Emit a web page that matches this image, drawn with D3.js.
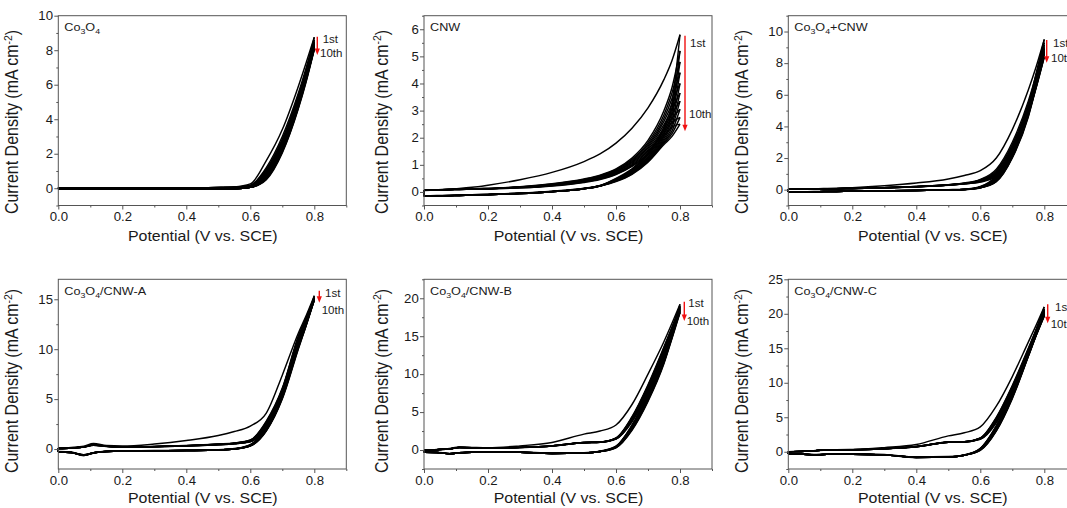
<!DOCTYPE html>
<html><head><meta charset="utf-8">
<script src="https://cdn.jsdelivr.net/npm/d3@7"></script>
<style>
body{margin:0;background:#fff;}
svg{display:block;}
text{font-family:"Liberation Sans",Arial,sans-serif;}
</style>
</head><body>
<svg id="chart" width="1067" height="508"></svg>
<script>
// ---------------- DATA ----------------
// potential grid (V vs. SCE) shared by every branch
const potentials = [0, 0.04, 0.08, 0.11, 0.15, 0.2, 0.3, 0.4, 0.5, 0.55, 0.6, 0.65, 0.7, 0.75, 0.775, 0.8];
const xMajorTicks = [0, 0.2, 0.4, 0.6, 0.8];
const xMinorTicks = [0.1, 0.3, 0.5, 0.7, 0.9];

// Co3O4 : anodic (forward) and cathodic (reverse) branches of cycles 1..10 (mA cm-2)
const co3o4Fwd = [
 [0.02,0.02,0.02,0.02,0.02,0.02,0.02,0.03,0.05,0.08,0.25,1.6,3.4,5.9,7.3,8.75],
 [0.02,0.02,0.02,0.02,0.02,0.02,0.02,0.02,0.04,0.06,0.18,1.2,3.0,5.5,7.0,8.6],
 [0.02,0.02,0.02,0.02,0.02,0.02,0.02,0.02,0.04,0.05,0.16,1.1,2.85,5.35,6.85,8.5],
 [0.02,0.02,0.02,0.02,0.02,0.02,0.02,0.02,0.04,0.05,0.15,1.02,2.75,5.25,6.75,8.42],
 [0.02,0.02,0.02,0.02,0.02,0.02,0.02,0.02,0.03,0.05,0.14,0.96,2.66,5.15,6.67,8.35],
 [0.02,0.02,0.02,0.02,0.02,0.02,0.02,0.02,0.03,0.04,0.13,0.9,2.58,5.07,6.6,8.28],
 [0.02,0.02,0.02,0.02,0.02,0.02,0.02,0.02,0.03,0.04,0.12,0.85,2.5,5.0,6.53,8.22],
 [0.02,0.02,0.02,0.02,0.02,0.02,0.02,0.02,0.03,0.04,0.12,0.8,2.43,4.93,6.46,8.16],
 [0.02,0.02,0.02,0.02,0.02,0.02,0.02,0.02,0.03,0.04,0.11,0.76,2.37,4.86,6.4,8.1],
 [0.02,0.02,0.02,0.02,0.02,0.02,0.02,0.02,0.03,0.04,0.11,0.72,2.3,4.8,6.34,8.05]
];
const co3o4Rev = [
 [-0.04,-0.04,-0.04,-0.04,-0.04,-0.04,-0.04,-0.04,-0.04,-0.03,0.05,1.0,2.75,5.3,6.9,8.75],
 [-0.04,-0.04,-0.04,-0.04,-0.04,-0.04,-0.04,-0.04,-0.04,-0.03,0.05,0.85,2.6,5.15,6.75,8.6],
 [-0.04,-0.04,-0.04,-0.04,-0.04,-0.04,-0.04,-0.04,-0.04,-0.03,0.05,0.78,2.5,5.05,6.65,8.5],
 [-0.04,-0.04,-0.04,-0.04,-0.04,-0.04,-0.04,-0.04,-0.04,-0.03,0.05,0.72,2.42,4.97,6.57,8.42],
 [-0.04,-0.04,-0.04,-0.04,-0.04,-0.04,-0.04,-0.04,-0.04,-0.03,0.05,0.67,2.35,4.9,6.5,8.35],
 [-0.04,-0.04,-0.04,-0.04,-0.04,-0.04,-0.04,-0.04,-0.04,-0.03,0.05,0.63,2.28,4.83,6.43,8.28],
 [-0.04,-0.04,-0.04,-0.04,-0.04,-0.04,-0.04,-0.04,-0.04,-0.03,0.05,0.59,2.22,4.77,6.37,8.22],
 [-0.04,-0.04,-0.04,-0.04,-0.04,-0.04,-0.04,-0.04,-0.04,-0.03,0.05,0.56,2.16,4.71,6.31,8.16],
 [-0.04,-0.04,-0.04,-0.04,-0.04,-0.04,-0.04,-0.04,-0.04,-0.03,0.05,0.53,2.1,4.65,6.25,8.1],
 [-0.04,-0.04,-0.04,-0.04,-0.04,-0.04,-0.04,-0.04,-0.04,-0.03,0.05,0.5,2.05,4.6,6.2,8.05]
];

// CNW
const cnwFwd = [
 [0.05,0.08,0.11,0.13,0.17,0.25,0.45,0.72,1.12,1.4,1.8,2.35,3.1,4.15,4.85,5.8],
 [0.07,0.08,0.09,0.1,0.11,0.13,0.19,0.3,0.48,0.62,0.85,1.25,1.9,3.0,3.85,5.2],
 [0.07,0.08,0.09,0.1,0.11,0.13,0.18,0.29,0.46,0.6,0.82,1.2,1.82,2.85,3.65,4.8],
 [0.07,0.08,0.09,0.1,0.11,0.13,0.18,0.28,0.44,0.58,0.79,1.16,1.75,2.72,3.45,4.4],
 [0.07,0.08,0.09,0.1,0.11,0.12,0.17,0.27,0.42,0.56,0.76,1.12,1.68,2.6,3.25,4.0],
 [0.07,0.08,0.09,0.1,0.11,0.12,0.17,0.26,0.41,0.54,0.74,1.08,1.62,2.48,3.05,3.65],
 [0.06,0.07,0.08,0.09,0.1,0.12,0.16,0.25,0.39,0.52,0.71,1.04,1.56,2.37,2.88,3.35],
 [0.06,0.07,0.08,0.09,0.1,0.12,0.16,0.24,0.38,0.5,0.69,1.0,1.5,2.27,2.72,3.05],
 [0.06,0.07,0.08,0.09,0.1,0.11,0.15,0.23,0.37,0.48,0.66,0.97,1.44,2.17,2.56,2.75],
 [0.06,0.07,0.08,0.09,0.1,0.11,0.15,0.22,0.35,0.46,0.64,0.94,1.38,2.07,2.4,2.5]
];
const cnwRev = [
 [-0.14,-0.13,-0.12,-0.11,-0.1,-0.08,-0.04,0.03,0.14,0.24,0.5,0.85,1.45,2.4,3.3,5.8],
 [-0.15,-0.14,-0.13,-0.12,-0.11,-0.09,-0.05,0.02,0.13,0.23,0.48,0.82,1.4,2.3,3.1,5.2],
 [-0.15,-0.14,-0.13,-0.12,-0.11,-0.09,-0.05,0.02,0.13,0.23,0.46,0.79,1.35,2.2,2.95,4.8],
 [-0.16,-0.15,-0.14,-0.13,-0.12,-0.1,-0.06,0.01,0.12,0.22,0.45,0.76,1.3,2.12,2.8,4.4],
 [-0.16,-0.15,-0.14,-0.13,-0.12,-0.1,-0.06,0.01,0.12,0.22,0.44,0.74,1.26,2.04,2.65,4.0],
 [-0.16,-0.15,-0.14,-0.13,-0.12,-0.1,-0.06,0.01,0.12,0.22,0.43,0.72,1.22,1.97,2.5,3.65],
 [-0.16,-0.15,-0.14,-0.13,-0.12,-0.1,-0.06,0.01,0.12,0.22,0.42,0.7,1.19,1.9,2.38,3.35],
 [-0.16,-0.15,-0.14,-0.13,-0.12,-0.1,-0.06,0.01,0.12,0.22,0.41,0.68,1.16,1.85,2.25,3.05],
 [-0.16,-0.15,-0.14,-0.13,-0.12,-0.1,-0.06,0.01,0.12,0.22,0.4,0.67,1.13,1.8,2.15,2.75],
 [-0.16,-0.15,-0.14,-0.13,-0.12,-0.1,-0.06,0.01,0.12,0.22,0.38,0.65,1.1,1.75,2.05,2.5]
];

// Co3O4+CNW
const mixFwd = [
 [0.02,0.04,0.06,0.07,0.09,0.13,0.25,0.42,0.68,0.9,1.2,2.0,3.8,6.3,7.8,9.5],
 [0.02,0.03,0.04,0.05,0.06,0.08,0.13,0.2,0.32,0.42,0.65,1.3,3.0,5.6,7.3,9.3],
 [0.02,0.03,0.04,0.05,0.06,0.08,0.13,0.2,0.31,0.4,0.62,1.22,2.85,5.45,7.15,9.15],
 [0.02,0.03,0.04,0.05,0.06,0.08,0.13,0.2,0.31,0.4,0.6,1.15,2.72,5.32,7.02,9.0],
 [0.02,0.03,0.04,0.05,0.06,0.08,0.12,0.19,0.3,0.39,0.58,1.08,2.6,5.2,6.9,8.9],
 [0.02,0.03,0.04,0.05,0.06,0.08,0.12,0.19,0.3,0.39,0.56,1.02,2.5,5.1,6.8,8.8],
 [0.02,0.03,0.04,0.05,0.06,0.08,0.12,0.19,0.3,0.38,0.54,0.97,2.42,5.0,6.7,8.7],
 [0.02,0.03,0.04,0.05,0.06,0.08,0.12,0.18,0.29,0.38,0.52,0.92,2.34,4.92,6.62,8.6],
 [0.02,0.03,0.04,0.05,0.06,0.08,0.12,0.18,0.29,0.37,0.5,0.88,2.27,4.85,6.55,8.5],
 [0.02,0.03,0.04,0.05,0.06,0.08,0.12,0.18,0.28,0.37,0.48,0.84,2.2,4.78,6.48,8.4]
];
const mixRev = [
 [-0.14,-0.13,-0.12,-0.11,-0.1,-0.09,-0.07,-0.04,0.0,0.03,0.2,0.9,2.6,5.3,7.4,9.5],
 [-0.15,-0.14,-0.13,-0.12,-0.11,-0.1,-0.08,-0.05,-0.02,0.01,0.18,0.82,2.5,5.2,7.25,9.3],
 [-0.15,-0.14,-0.13,-0.12,-0.11,-0.1,-0.08,-0.05,-0.02,0.01,0.17,0.76,2.42,5.1,7.1,9.15],
 [-0.15,-0.14,-0.13,-0.12,-0.11,-0.1,-0.08,-0.05,-0.02,0.01,0.16,0.7,2.34,5.0,6.98,9.0],
 [-0.15,-0.14,-0.13,-0.12,-0.11,-0.1,-0.08,-0.05,-0.02,0.01,0.15,0.66,2.27,4.92,6.88,8.9],
 [-0.15,-0.14,-0.13,-0.12,-0.11,-0.1,-0.08,-0.05,-0.02,0.01,0.14,0.62,2.2,4.85,6.8,8.8],
 [-0.15,-0.14,-0.13,-0.12,-0.11,-0.1,-0.08,-0.05,-0.02,0.01,0.13,0.58,2.14,4.78,6.72,8.7],
 [-0.15,-0.14,-0.13,-0.12,-0.11,-0.1,-0.08,-0.05,-0.02,0.01,0.12,0.55,2.09,4.72,6.64,8.6],
 [-0.15,-0.14,-0.13,-0.12,-0.11,-0.1,-0.08,-0.05,-0.02,0.01,0.12,0.52,2.04,4.66,6.57,8.5],
 [-0.15,-0.14,-0.13,-0.12,-0.11,-0.1,-0.08,-0.05,-0.02,0.01,0.11,0.5,2.0,4.6,6.5,8.4]
];

// Co3O4/CNW-A
const aFwd = [
 [0.08,0.15,0.28,0.55,0.35,0.3,0.5,0.85,1.35,1.75,2.3,3.6,7.4,11.6,13.4,15.35],
 [0.05,0.1,0.22,0.45,0.3,0.2,0.25,0.35,0.5,0.6,0.9,2.8,6.1,11.3,13.2,15.2],
 [0.05,0.1,0.22,0.44,0.3,0.2,0.25,0.34,0.49,0.59,0.88,2.72,6.02,11.2,13.13,15.16],
 [0.05,0.1,0.21,0.43,0.29,0.2,0.25,0.34,0.48,0.58,0.85,2.64,5.95,11.1,13.06,15.12],
 [0.05,0.1,0.21,0.42,0.29,0.2,0.24,0.33,0.47,0.57,0.82,2.56,5.87,11.0,13.0,15.08],
 [0.05,0.1,0.21,0.41,0.28,0.2,0.24,0.33,0.46,0.56,0.8,2.49,5.8,10.92,12.94,15.04],
 [0.05,0.1,0.2,0.4,0.28,0.2,0.24,0.32,0.45,0.55,0.78,2.42,5.73,10.84,12.88,15.0],
 [0.05,0.1,0.2,0.39,0.27,0.19,0.23,0.32,0.44,0.54,0.76,2.35,5.66,10.76,12.83,14.97],
 [0.05,0.1,0.2,0.38,0.27,0.19,0.23,0.31,0.43,0.53,0.74,2.28,5.58,10.68,12.77,14.94],
 [0.05,0.1,0.2,0.37,0.26,0.19,0.23,0.31,0.42,0.52,0.72,2.2,5.5,10.6,12.7,14.9]
];
const aRev = [
 [-0.25,-0.3,-0.6,-0.38,-0.22,-0.18,-0.15,-0.12,-0.07,0.05,0.45,2.2,5.8,10.8,12.9,15.35],
 [-0.3,-0.35,-0.65,-0.4,-0.25,-0.2,-0.18,-0.15,-0.1,0.0,0.42,2.15,5.7,10.7,12.83,15.2],
 [-0.3,-0.35,-0.64,-0.4,-0.25,-0.2,-0.18,-0.15,-0.1,0.0,0.4,2.1,5.6,10.6,12.76,15.16],
 [-0.3,-0.35,-0.63,-0.4,-0.25,-0.2,-0.18,-0.15,-0.1,0.0,0.38,2.05,5.5,10.5,12.7,15.12],
 [-0.3,-0.35,-0.62,-0.39,-0.25,-0.2,-0.18,-0.15,-0.1,0.0,0.36,2.0,5.4,10.4,12.64,15.08],
 [-0.3,-0.35,-0.61,-0.39,-0.25,-0.2,-0.18,-0.15,-0.1,0.0,0.35,1.96,5.32,10.32,12.58,15.04],
 [-0.3,-0.35,-0.6,-0.38,-0.25,-0.2,-0.18,-0.15,-0.1,0.0,0.34,1.92,5.24,10.24,12.52,15.0],
 [-0.3,-0.35,-0.59,-0.38,-0.25,-0.2,-0.18,-0.15,-0.1,0.0,0.33,1.88,5.16,10.16,12.47,14.97],
 [-0.3,-0.35,-0.58,-0.37,-0.25,-0.2,-0.18,-0.15,-0.1,0.0,0.32,1.84,5.08,10.08,12.43,14.94],
 [-0.3,-0.35,-0.57,-0.37,-0.25,-0.2,-0.18,-0.15,-0.1,0.0,0.3,1.8,5.0,10.0,12.4,14.9]
];

// Co3O4/CNW-B
const bFwd = [
 [0.0,0.08,0.2,0.4,0.35,0.3,0.55,1.0,2.1,2.5,3.3,6.0,10.0,14.3,16.7,19.2],
 [0.0,0.05,0.15,0.35,0.3,0.28,0.35,0.55,1.0,1.05,1.6,4.4,8.6,13.6,16.2,19.0],
 [0.0,0.05,0.15,0.35,0.3,0.28,0.35,0.55,1.0,1.05,1.58,4.3,8.47,13.47,16.1,18.88],
 [0.0,0.05,0.15,0.34,0.3,0.28,0.35,0.55,1.0,1.05,1.56,4.21,8.35,13.35,16.0,18.77],
 [0.0,0.05,0.15,0.34,0.3,0.28,0.35,0.55,0.98,1.04,1.54,4.12,8.22,13.22,15.9,18.66],
 [0.0,0.05,0.15,0.34,0.3,0.28,0.35,0.54,0.98,1.04,1.52,4.04,8.1,13.1,15.8,18.55],
 [0.0,0.05,0.14,0.33,0.29,0.27,0.34,0.54,0.97,1.03,1.5,3.96,7.97,12.97,15.7,18.44],
 [0.0,0.05,0.14,0.33,0.29,0.27,0.34,0.54,0.97,1.03,1.48,3.88,7.85,12.85,15.6,18.33],
 [0.0,0.05,0.14,0.33,0.29,0.27,0.34,0.53,0.96,1.02,1.46,3.8,7.72,12.72,15.5,18.22],
 [0.0,0.05,0.14,0.32,0.29,0.27,0.34,0.53,0.96,1.02,1.44,3.72,7.6,12.6,15.4,18.1]
];
const bRev = [
 [-0.25,-0.28,-0.45,-0.35,-0.25,-0.22,-0.25,-0.4,-0.35,-0.15,0.5,3.3,7.4,12.4,15.6,19.2],
 [-0.3,-0.32,-0.5,-0.38,-0.28,-0.25,-0.3,-0.45,-0.4,-0.2,0.48,3.22,7.29,12.29,15.5,19.0],
 [-0.3,-0.32,-0.5,-0.38,-0.28,-0.25,-0.3,-0.45,-0.4,-0.2,0.46,3.14,7.18,12.18,15.4,18.88],
 [-0.3,-0.32,-0.5,-0.38,-0.28,-0.25,-0.3,-0.45,-0.4,-0.2,0.44,3.06,7.07,12.07,15.3,18.77],
 [-0.3,-0.32,-0.5,-0.38,-0.28,-0.25,-0.3,-0.45,-0.4,-0.2,0.42,2.98,6.96,11.96,15.2,18.66],
 [-0.3,-0.32,-0.49,-0.37,-0.28,-0.25,-0.3,-0.45,-0.4,-0.2,0.4,2.9,6.85,11.85,15.1,18.55],
 [-0.3,-0.32,-0.49,-0.37,-0.28,-0.25,-0.3,-0.45,-0.4,-0.2,0.38,2.83,6.74,11.74,15.0,18.44],
 [-0.3,-0.32,-0.48,-0.37,-0.28,-0.25,-0.3,-0.45,-0.4,-0.2,0.35,2.76,6.63,11.63,14.9,18.33],
 [-0.3,-0.32,-0.48,-0.36,-0.28,-0.25,-0.3,-0.45,-0.4,-0.2,0.33,2.68,6.52,11.52,14.8,18.22],
 [-0.3,-0.32,-0.48,-0.36,-0.28,-0.25,-0.3,-0.45,-0.4,-0.2,0.3,2.6,6.4,11.4,14.7,18.1]
];

// Co3O4/CNW-C
const cFwd = [
 [0.0,0.08,0.15,0.3,0.3,0.32,0.6,1.05,2.3,2.75,3.6,6.6,10.9,15.9,18.4,21.0],
 [0.0,0.05,0.12,0.25,0.25,0.28,0.45,0.75,1.4,1.45,2.0,5.0,9.6,15.0,17.8,20.7],
 [0.0,0.05,0.12,0.25,0.25,0.28,0.45,0.75,1.4,1.45,1.98,4.9,9.48,14.88,17.7,20.58],
 [0.0,0.05,0.12,0.25,0.25,0.28,0.45,0.75,1.39,1.44,1.96,4.8,9.36,14.76,17.6,20.46],
 [0.0,0.05,0.12,0.25,0.25,0.28,0.45,0.74,1.39,1.44,1.94,4.7,9.24,14.64,17.5,20.34],
 [0.0,0.05,0.12,0.24,0.25,0.28,0.44,0.74,1.38,1.43,1.92,4.6,9.12,14.52,17.4,20.22],
 [0.0,0.05,0.12,0.24,0.24,0.27,0.44,0.74,1.38,1.43,1.9,4.5,9.0,14.4,17.3,20.1],
 [0.0,0.05,0.12,0.24,0.24,0.27,0.44,0.73,1.37,1.42,1.87,4.4,8.87,14.27,17.2,19.96],
 [0.0,0.05,0.12,0.24,0.24,0.27,0.44,0.73,1.37,1.42,1.84,4.3,8.74,14.14,17.05,19.83],
 [0.0,0.05,0.12,0.23,0.24,0.27,0.43,0.73,1.36,1.41,1.8,4.2,8.6,14.0,16.9,19.7]
];
const cRev = [
 [-0.25,-0.28,-0.4,-0.35,-0.3,-0.3,-0.4,-0.75,-0.7,-0.45,0.5,3.8,8.6,14.6,17.7,21.0],
 [-0.3,-0.32,-0.45,-0.4,-0.35,-0.35,-0.45,-0.8,-0.75,-0.5,0.47,3.7,8.5,14.5,17.6,20.7],
 [-0.3,-0.32,-0.45,-0.4,-0.35,-0.35,-0.45,-0.8,-0.75,-0.5,0.44,3.6,8.4,14.4,17.5,20.58],
 [-0.3,-0.32,-0.45,-0.4,-0.35,-0.35,-0.45,-0.81,-0.76,-0.5,0.4,3.5,8.3,14.3,17.4,20.46],
 [-0.3,-0.32,-0.45,-0.4,-0.35,-0.35,-0.45,-0.81,-0.76,-0.5,0.37,3.4,8.2,14.2,17.3,20.34],
 [-0.3,-0.32,-0.45,-0.4,-0.35,-0.35,-0.45,-0.82,-0.77,-0.5,0.34,3.3,8.1,14.1,17.2,20.22],
 [-0.3,-0.32,-0.45,-0.4,-0.35,-0.35,-0.45,-0.82,-0.77,-0.5,0.3,3.2,8.0,14.0,17.1,20.1],
 [-0.3,-0.32,-0.45,-0.4,-0.35,-0.35,-0.45,-0.83,-0.78,-0.5,0.27,3.1,7.9,13.9,17.0,19.96],
 [-0.3,-0.32,-0.45,-0.4,-0.35,-0.35,-0.45,-0.83,-0.78,-0.5,0.24,3.05,7.8,13.85,16.95,19.83],
 [-0.3,-0.32,-0.45,-0.4,-0.35,-0.35,-0.45,-0.84,-0.78,-0.5,0.2,3.0,7.7,13.8,16.9,19.7]
];

// axis ranges and tick labels for each panel
const yDomains = [[-1,10],[-0.5,6.5],[-1,11],[-2,17],[-2.5,22.5],[-2.5,25]];
const yMajorTicks = [[0,2,4,6,8,10],[0,1,2,3,4,5,6],[0,2,4,6,8,10],[0,5,10,15],[0,5,10,15,20],[0,5,10,15,20,25]];
const yMinorTicks = [[-1,1,3,5,7,9],[-0.5,0.5,1.5,2.5,3.5,4.5,5.5,6.5],[-1,1,3,5,7,9,11],[2.5,7.5,12.5],[-2.5,2.5,7.5,12.5,17.5,22.5],[-2.5,2.5,7.5,12.5,17.5,22.5]];
// panel names as [text, isSubscript] segments
const panelTitles = [
 [["Co",0],["3",1],["O",0],["4",1]],
 [["CNW",0]],
 [["Co",0],["3",1],["O",0],["4",1],["+CNW",0]],
 [["Co",0],["3",1],["O",0],["4",1],["/CNW-A",0]],
 [["Co",0],["3",1],["O",0],["4",1],["/CNW-B",0]],
 [["Co",0],["3",1],["O",0],["4",1],["/CNW-C",0]]
];
// arrow (1st -> 10th) start/end current values and label anchor values
const arrowFrom = [8.78, 5.76, 9.46, 15.86, 19.55, 21.38];
const arrowTo   = [7.72, 2.24, 8.03, 14.66, 17.0, 18.62];
const firstLabelY = [8.4, 5.36, 9.04, 15.26, 18.81, 20.4];
const tenthLabelY = [7.62, 2.73, 8.09, 13.49, 16.5, 18.0];
const xLabel = "Potential (V vs. SCE)";

const fwdSets = [co3o4Fwd, cnwFwd, mixFwd, aFwd, bFwd, cFwd];
const revSets = [co3o4Rev, cnwRev, mixRev, aRev, bRev, cRev];

// ---------------- LAYOUT ----------------
const frames = [
 {x:58.3, y:15.7, w:288, h:189.8, ylx:-40, yly:122, xlb:35},
 {x:424,  y:15.7, w:288, h:189.8, ylx:-36.5, yly:122, xlb:35},
 {x:788.3,y:15.7, w:288, h:189.8, ylx:-40, yly:122, xlb:35},
 {x:58.3, y:279.3,w:288, h:189.7, ylx:-40, yly:381, xlb:34},
 {x:424,  y:279.3,w:288, h:189.7, ylx:-36.5, yly:381, xlb:34},
 {x:788.3,y:279.3,w:288, h:189.7, ylx:-40, yly:381, xlb:34}
];
const arrowDx = [3, 5, 2.4, 5, 4.3, 3.4];
const firstDx = [8.4, 10, 8.7, 10.7, 8.3, 10.7];
const tenthDx = [5.7, 9, 6.7, 7.4, 6.7, 6.4];

const S = 1.1;           // slight horizontal glyph stretch of the original figure
const TXT = "#1a1a1a";
const AXC = "#555";
const FONT = "'Liberation Sans', Arial, sans-serif";

const svg = d3.select("#chart");

function stext(g, x, y, anchor, size) {
  return g.append("text")
    .attr("transform", `translate(${x},${y}) scale(${S},1)`)
    .attr("text-anchor", anchor)
    .attr("font-family", FONT)
    .attr("font-size", size)
    .attr("fill", TXT);
}

frames.forEach((f, i) => {
  const x = d3.scaleLinear().domain([0, 0.9]).range([f.x, f.x + f.w]);
  const y = d3.scaleLinear().domain(yDomains[i]).range([f.y + f.h, f.y]);
  const g = svg.append("g");

  const line = d3.line()
    .x((d, k) => x(potentials[k]))
    .y(d => y(d))
    .curve(d3.curveMonotoneX);

  const curves = g.append("g").attr("fill", "none").attr("stroke", "#000")
    .attr("stroke-width", 1.45).attr("stroke-linejoin", "round");
  fwdSets[i].forEach((arr, k) => {
    curves.append("path").attr("d", line(arr));
    curves.append("path").attr("d", line(revSets[i][k]));
    curves.append("line")
      .attr("x1", x(0)).attr("x2", x(0))
      .attr("y1", y(revSets[i][k][0])).attr("y2", y(arr[0]));
  });

  // frame
  g.append("rect").attr("x", f.x).attr("y", f.y).attr("width", f.w).attr("height", f.h)
    .attr("fill", "none").attr("stroke", AXC).attr("stroke-width", 1);

  // x axis
  const xa = g.append("g").attr("transform", `translate(0,${f.y + f.h})`).attr("color", AXC)
    .call(d3.axisBottom(x).tickValues(xMajorTicks).tickSize(4).tickPadding(3).tickFormat(d3.format(".1f")));
  xa.select(".domain").remove();
  xa.selectAll("text").attr("transform", `scale(${S},1)`).attr("font-size", 12)
    .attr("fill", TXT).attr("font-family", FONT);
  const xm = g.append("g").attr("transform", `translate(0,${f.y + f.h})`).attr("color", AXC)
    .call(d3.axisBottom(x).tickValues(xMinorTicks).tickSize(2).tickFormat(""));
  xm.select(".domain").remove();

  // y axis
  const ya = g.append("g").attr("transform", `translate(${f.x},0)`).attr("color", AXC)
    .call(d3.axisLeft(y).tickValues(yMajorTicks[i]).tickSize(4).tickPadding(0.8).tickFormat(d3.format("d")));
  ya.select(".domain").remove();
  ya.selectAll("text").attr("transform", `scale(${S},1)`).attr("font-size", 12)
    .attr("fill", TXT).attr("font-family", FONT);
  const ym = g.append("g").attr("transform", `translate(${f.x},0)`).attr("color", AXC)
    .call(d3.axisLeft(y).tickValues(yMinorTicks[i].filter(v => v >= yDomains[i][0] && v <= yDomains[i][1])).tickSize(2).tickFormat(""));
  ym.select(".domain").remove();

  // axis titles
  stext(g, f.x + f.w / 2 + 0.5, f.y + f.h + f.xlb, "middle", 14.5).text(xLabel);
  const yl = g.append("text")
    .attr("transform", `translate(${f.x + f.ylx},${f.yly}) scale(${S},1) rotate(-90)`)
    .attr("text-anchor", "middle").attr("font-family", FONT).attr("font-size", 16).attr("fill", TXT);
  yl.append("tspan").text("Current Density (mA cm");
  yl.append("tspan").attr("font-size", 10.5).attr("dy", -6).text("-2");
  yl.append("tspan").attr("dy", 6).text(")");

  // panel title
  const t = stext(g, f.x + 6, f.y + 15.2, "start", 11.5);
  panelTitles[i].forEach(([s, sub], k) => {
    const prevSub = k > 0 && panelTitles[i][k - 1][1];
    const ts = t.append("tspan").text(s);
    if (sub) ts.attr("font-size", 8).attr("dy", 3);
    else if (prevSub) ts.attr("dy", -3);
  });

  // 1st -> 10th arrow
  const ax = x(0.8) + arrowDx[i];
  const y1 = y(arrowFrom[i]), y2 = y(arrowTo[i]);
  g.append("line").attr("x1", ax).attr("x2", ax).attr("y1", y1).attr("y2", y2 - 5)
    .attr("stroke", "#f01010").attr("stroke-width", 1.4);
  g.append("path").attr("d", `M${ax - 2.6},${y2 - 6.5}L${ax + 2.6},${y2 - 6.5}L${ax},${y2}Z`)
    .attr("fill", "#f01010");
  stext(g, x(0.8) + firstDx[i], y(firstLabelY[i]), "start", 10.5).text("1st");
  stext(g, x(0.8) + tenthDx[i], y(tenthLabelY[i]), "start", 10.5).text("10th");
});
</script>
</body></html>
